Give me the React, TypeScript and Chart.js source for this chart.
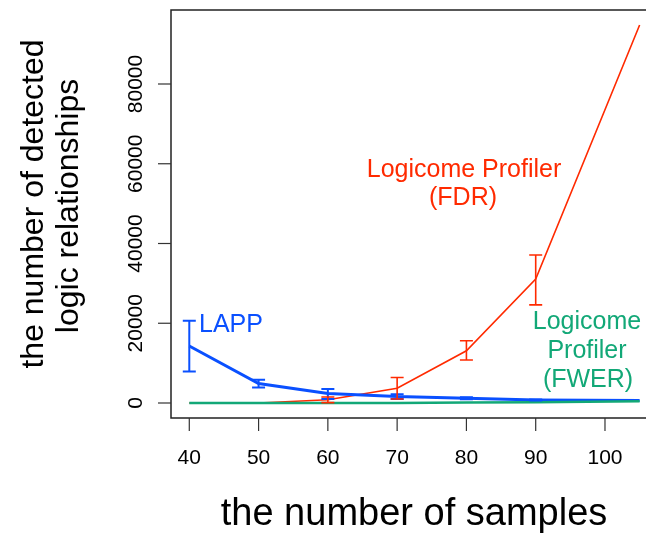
import React, { useEffect, useRef } from "react";
import { Chart, registerables } from "chart.js";

Chart.register(...registerables);

const samples = [40, 50, 60, 70, 80, 90, 105];
const xTicks = [40, 50, 60, 70, 80, 90, 100];
const yTicks = [0, 20000, 40000, 60000, 80000];

const fdrMean = [0, 0, 800, 3700, 13100, 31100, 94800];
const fdrLow: (number | null)[] = [null, null, 100, 1000, 10800, 24600, null];
const fdrHigh: (number | null)[] = [null, null, 1500, 6400, 15600, 37100, null];

const lappMean = [14300, 4900, 2400, 1600, 1200, 750, 650];
const lappLow: (number | null)[] = [7900, 3900, 1000, 1000, 950, 600, null];
const lappHigh: (number | null)[] = [20600, 5800, 3500, 2200, 1450, 900, null];

const fwerMean = [0, 0, 0, 0, 100, 200, 450];

const RED = "#FF2A00";
const BLUE = "#0A50FF";
const GREEN = "#12A877";
const FONT = '"Liberation Sans", Arial, Helvetica, sans-serif';

const pts = (ys: number[]) => samples.map((x, i) => ({ x, y: ys[i] }));

const decor = {
  id: "decor",
  afterDatasetsDraw(chart: any) {
    const ctx = chart.ctx as CanvasRenderingContext2D;
    const xs = chart.scales.x;
    const ys = chart.scales.y;
    const drawErr = (lo: (number | null)[], hi: (number | null)[], color: string, lw: number) => {
      ctx.save();
      ctx.strokeStyle = color;
      ctx.lineWidth = lw;
      samples.forEach((s, i) => {
        const l = lo[i];
        const h = hi[i];
        if (l == null || h == null) return;
        const px = xs.getPixelForValue(s);
        const pl = ys.getPixelForValue(l);
        const ph = ys.getPixelForValue(h);
        ctx.beginPath();
        ctx.moveTo(px, pl);
        ctx.lineTo(px, ph);
        ctx.moveTo(px - 6.5, pl);
        ctx.lineTo(px + 6.5, pl);
        ctx.moveTo(px - 6.5, ph);
        ctx.lineTo(px + 6.5, ph);
        ctx.stroke();
      });
      ctx.restore();
    };
    drawErr(lappLow, lappHigh, BLUE, 2);
    drawErr(fdrLow, fdrHigh, RED, 1.6);
  },
  afterDraw(chart: any) {
    const ctx = chart.ctx as CanvasRenderingContext2D;
    const xs = chart.scales.x;
    const ys = chart.scales.y;
    const a = chart.chartArea;
    ctx.save();
    // box (left, top, bottom)
    ctx.strokeStyle = "#222";
    ctx.lineWidth = 1.5;
    ctx.beginPath();
    ctx.moveTo(chart.width, a.top);
    ctx.lineTo(a.left, a.top);
    ctx.lineTo(a.left, a.bottom);
    ctx.lineTo(chart.width, a.bottom);
    ctx.stroke();

    // x ticks
    ctx.lineWidth = 1.2;
    ctx.strokeStyle = "#333";
    ctx.fillStyle = "#000";
    ctx.font = `21px ${FONT}`;
    ctx.textAlign = "center";
    ctx.textBaseline = "alphabetic";
    xTicks.forEach((t) => {
      const px = xs.getPixelForValue(t);
      ctx.beginPath();
      ctx.moveTo(px, a.bottom);
      ctx.lineTo(px, a.bottom + 13);
      ctx.stroke();
      ctx.fillText(String(t), px, 464);
    });
    // y ticks
    yTicks.forEach((t) => {
      const py = ys.getPixelForValue(t);
      ctx.beginPath();
      ctx.moveTo(a.left, py);
      ctx.lineTo(a.left - 13, py);
      ctx.stroke();
      ctx.save();
      ctx.translate(142, py);
      ctx.rotate(-Math.PI / 2);
      ctx.fillText(String(t), 0, 0);
      ctx.restore();
    });

    // axis titles
    ctx.font = `38px ${FONT}`;
    ctx.fillText("the number of samples", 414, 525);
    ctx.font = `32px ${FONT}`;
    ctx.save();
    ctx.translate(43, 204);
    ctx.rotate(-Math.PI / 2);
    ctx.fillText("the number of detected", 0, 0);
    ctx.restore();
    ctx.save();
    ctx.translate(78, 206);
    ctx.rotate(-Math.PI / 2);
    ctx.fillText("logic relationships", 0, 0);
    ctx.restore();

    // annotations
    ctx.font = `25px ${FONT}`;
    ctx.fillStyle = RED;
    ctx.fillText("Logicome Profiler", 464, 177);
    ctx.fillText("(FDR)", 463, 205);
    ctx.fillStyle = GREEN;
    ctx.fillText("Logicome", 587, 329);
    ctx.fillText("Profiler", 587, 358);
    ctx.fillText("(FWER)", 588, 387);
    ctx.fillStyle = BLUE;
    ctx.textAlign = "left";
    ctx.fillText("LAPP", 199, 332);
    ctx.restore();
  },
};

export default function App() {
  const ref = useRef<HTMLCanvasElement | null>(null);
  useEffect(() => {
    if (!ref.current) return;
    const chart = new Chart(ref.current, {
      type: "line",
      data: {
        datasets: [
          {
            label: "Logicome Profiler (FWER)",
            data: pts(fwerMean),
            borderColor: GREEN,
            borderWidth: 2.5,
            pointRadius: 0,
            tension: 0,
          },
          {
            label: "LAPP",
            data: pts(lappMean),
            borderColor: BLUE,
            borderWidth: 3,
            pointRadius: 0,
            tension: 0,
          },
          {
            label: "Logicome Profiler (FDR)",
            data: pts(fdrMean),
            borderColor: RED,
            borderWidth: 1.6,
            pointRadius: 0,
            tension: 0,
          },
        ],
      },
      options: {
        animation: false,
        responsive: false,
        layout: { padding: { left: 171, top: 10, right: 0, bottom: 115 } },
        plugins: { legend: { display: false }, tooltip: { enabled: false } },
        scales: {
          x: { type: "linear", display: false, min: 37.36, max: 105.92 },
          y: { type: "linear", display: false, min: -3762, max: 98558 },
        },
      },
      plugins: [decor],
    });
    return () => chart.destroy();
  }, []);
  return (
    <div style={{ position: "absolute", left: 0, top: 0, width: 646, height: 533, background: "#fff" }}>
      <canvas ref={ref} width={646} height={533} style={{ display: "block" }} />
    </div>
  );
}
